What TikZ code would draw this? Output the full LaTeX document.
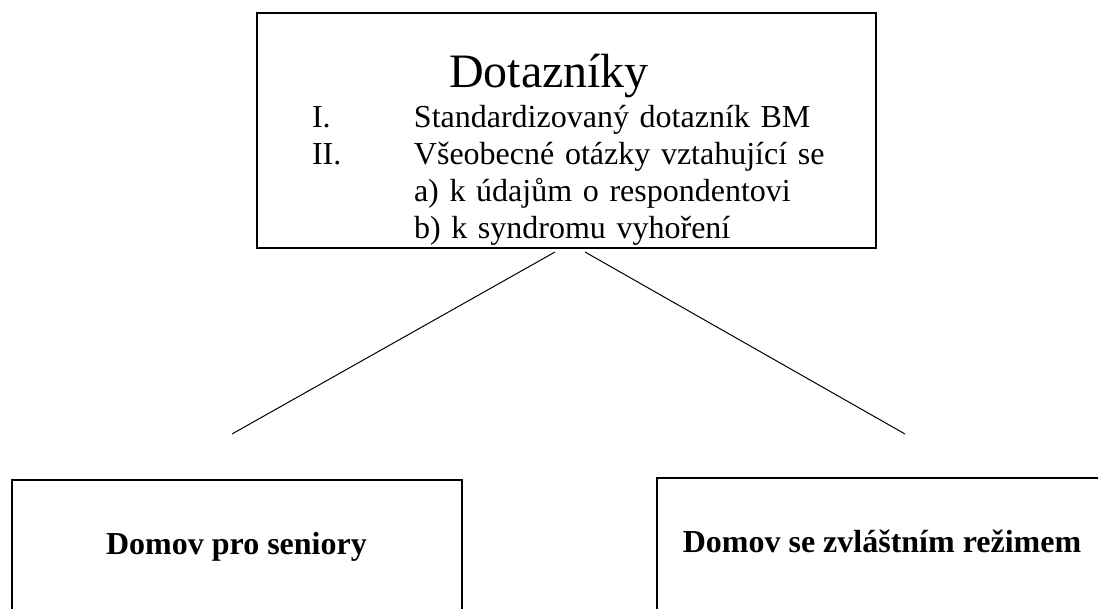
\documentclass[tikz,border=0pt]{standalone}
\usepackage{fontspec}
\setmainfont{Liberation Serif}

\begin{document}
\begin{tikzpicture}[
  x=0.75pt, y=-0.75pt,
  every node/.style={font=\fontsize{24}{27.6}\selectfont},
  sheet/.style={draw, line width=1.5pt, anchor=north west, outer sep=0pt, inner xsep=0pt, inner ysep=0pt, text width=464.25pt, align=left},
  home/.style={draw, line width=1.5pt, anchor=north, outer sep=0pt, minimum width=337.5pt, inner ysep=0pt, text height=55.5pt, text depth=60pt, font=\fontsize{24}{27.6}\selectfont\bfseries},
  link/.style={line width=0.75pt}
]
\useasboundingbox (0,0) rectangle (1098,609);
\clip (0,0) rectangle (1098,609);

\node[sheet] (dotazniky) at (257,13) {%
  \rule{0pt}{56.25pt}\hspace*{144pt}{\fontsize{36}{41.4}\selectfont Dotazníky}\\[2.4pt]
  \hspace*{41.25pt}\makebox[76.5pt][l]{I.}Standardizovaný dotazník BM\\
  \hspace*{41.25pt}\makebox[76.5pt][l]{II.}Všeobecné otázky vztahující se\\
  \hspace*{117.75pt}a) k údajům o respondentovi\\
  \hspace*{117.75pt}b) k syndromu vyhoření\rule[-7.2pt]{0pt}{0pt}};

\node[home] (seniori) at (236.5,480) {Domov pro seniory};
\node[home] (rezim)   at (882,478)   {Domov se zvláštním režimem};

\coordinate (forkL) at (555,252);
\coordinate (forkR) at (585,252);
\coordinate (endL)  at (232,434);
\coordinate (endR)  at (905,434);

\draw[link] (forkL) -- (endL);
\draw[link] (forkR) -- (endR);
\end{tikzpicture}
\end{document}
